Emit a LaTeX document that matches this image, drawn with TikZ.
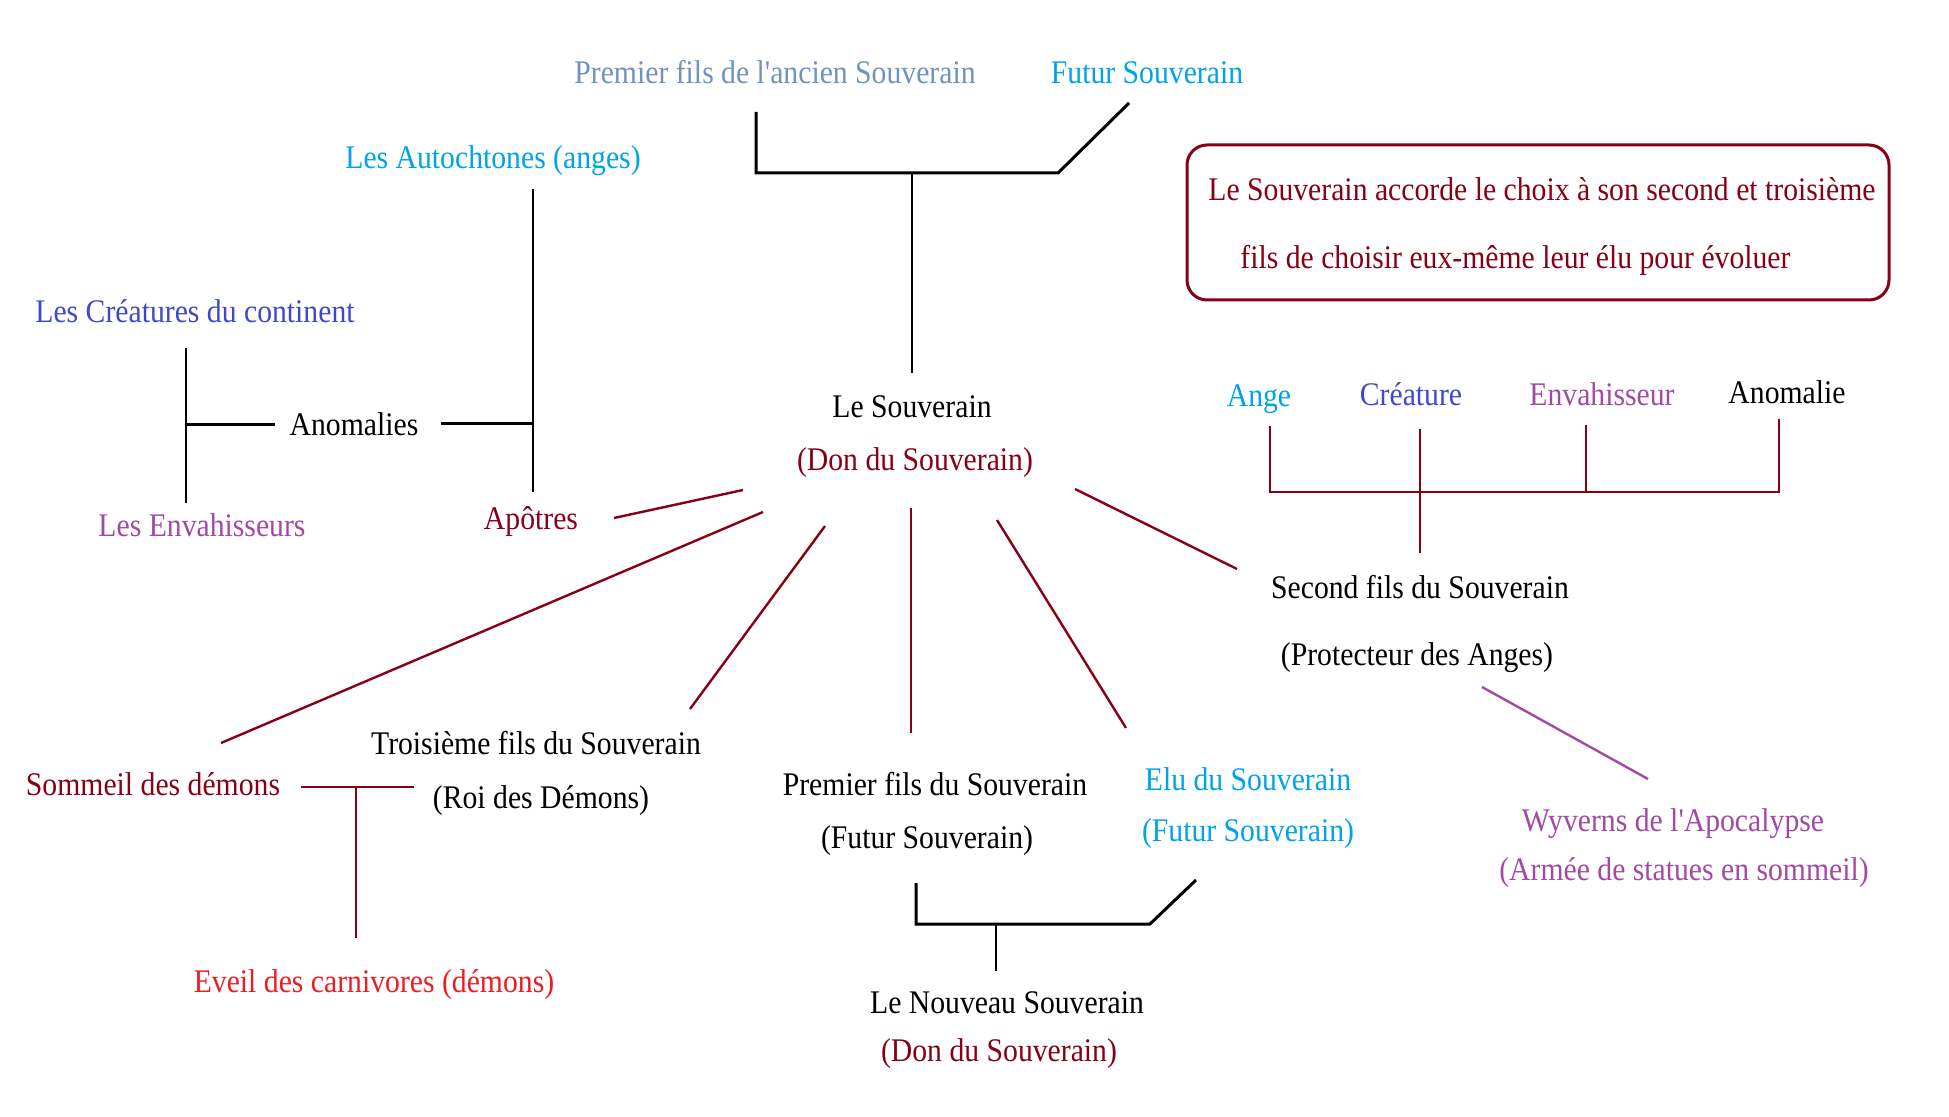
\documentclass[tikz,border=0pt]{standalone}
\usepackage{fontspec}
\setmainfont[FakeStretch=0.9, Ligatures=TeXOff]{Liberation Serif}
\definecolor{dred}{HTML}{880015}
\definecolor{sky}{HTML}{00A2E8}
\definecolor{slate}{HTML}{7092BE}
\definecolor{royal}{HTML}{3F48CC}
\definecolor{purp}{HTML}{A349A4}
\definecolor{bred}{HTML}{ED1C24}
\tikzset{
  lbl/.style={inner sep=0pt, font=\fontsize{16.5}{19}\selectfont, text height=1.5ex, text depth=.25ex, yshift=-3pt},
  blk/.style={draw=black, line width=1.5pt},
  blkthin/.style={draw=black, line width=1pt},
  spoke/.style={draw=dred, line width=1.2pt},
  rbr/.style={draw=dred, line width=1.4pt},
}
\begin{document}
\begin{tikzpicture}[x=0.5pt,y=-0.5pt]
\useasboundingbox (0,0) rectangle (1949,1117);
% texts
\node[lbl, slate] (ancien) at (775,72) {Premier fils de l'ancien Souverain};
\node[lbl, sky] (futur) at (1147,72) {Futur Souverain};
\node[lbl, sky] (autoch) at (493,157) {Les Autochtones (anges)};
\node[lbl, royal] (creat) at (195,311) {Les Créatures du continent};
\node[lbl] (anomalies) at (354,424) {Anomalies};
\node[lbl, purp] (envah) at (202,525) {Les Envahisseurs};
\node[lbl, dred] (apotres) at (531,518) {Apôtres};
\node[lbl] (souv) at (912,406) {Le Souverain};
\node[lbl, dred] (don) at (915,459) {(Don du Souverain)};
\node[draw=dred, line width=1.5pt, rounded corners=10pt, minimum width=351pt, minimum height=77.5pt, inner sep=0pt] (box) at (1538,222.5) {};
\node[lbl, dred, anchor=west] (boxa) at (1208,189) {Le Souverain accorde le choix à son second et troisième};
\node[lbl, dred, anchor=west] (boxb) at (1240,257) {fils de choisir eux-même leur élu pour évoluer};
\node[lbl, sky] (ange) at (1259,395) {Ange};
\node[lbl, royal] (creature) at (1411,394) {Créature};
\node[lbl, purp] (envahisseur) at (1602,394) {Envahisseur};
\node[lbl] (anomalie) at (1787,392) {Anomalie};
\node[lbl] (second) at (1420,587) {Second fils du Souverain};
\node[lbl] (protecteur) at (1417,654) {(Protecteur des Anges)};
\node[lbl, purp] (wyv) at (1673,820) {Wyverns de l'Apocalypse};
\node[lbl, purp] (armee) at (1684,869) {(Armée de statues en sommeil)};
\node[lbl] (troisieme) at (536,743) {Troisième fils du Souverain};
\node[lbl] (roi) at (541,797) {(Roi des Démons)};
\node[lbl, dred] (sommeil) at (153,784) {Sommeil des démons};
\node[lbl, bred] (eveil) at (374,981) {Eveil des carnivores (démons)};
\node[lbl] (premier) at (935,784) {Premier fils du Souverain};
\node[lbl] (futurb) at (927,837) {(Futur Souverain)};
\node[lbl, sky] (elu) at (1248,779) {Elu du Souverain};
\node[lbl, sky] (elufutur) at (1248,830) {(Futur Souverain)};
\node[lbl] (nouveau) at (1007,1002) {Le Nouveau Souverain};
\node[lbl, dred] (donb) at (999,1050) {(Don du Souverain)};
% coordinates
\coordinate (t1) at (756,112);
\coordinate (t2) at (756,173);
\coordinate (t3) at (1058,173);
\coordinate (t4) at (1129,103);
\coordinate (ts) at (912,173);
\coordinate (ts2) at (912,373);
\coordinate (a1) at (533,189);
\coordinate (a2) at (533,492);
\coordinate (a3) at (533,424);
\coordinate (a4) at (441,424);
\coordinate (c1) at (186,348);
\coordinate (c2) at (186,503);
\coordinate (c3) at (186,425);
\coordinate (c4) at (275,425);
\coordinate (s1a) at (743,490); \coordinate (s1b) at (614,518);
\coordinate (s2a) at (763,512); \coordinate (s2b) at (221,743);
\coordinate (s3a) at (825,526); \coordinate (s3b) at (690,709);
\coordinate (s4a) at (911,508); \coordinate (s4b) at (911,733);
\coordinate (s5a) at (997,520); \coordinate (s5b) at (1126,728);
\coordinate (s6a) at (1075,489); \coordinate (s6b) at (1237,569);
\coordinate (g1) at (1270,426); \coordinate (g1b) at (1270,492);
\coordinate (g2) at (1420,429); \coordinate (g2b) at (1420,553);
\coordinate (g3) at (1586,425); \coordinate (g3b) at (1586,492);
\coordinate (g4) at (1779,419); \coordinate (g4b) at (1779,492);
\coordinate (w1) at (1482,687); \coordinate (w2) at (1648,779);
\coordinate (m1) at (301,787); \coordinate (m2) at (414,787);
\coordinate (m3) at (356,787); \coordinate (m4) at (356,938);
\coordinate (b1) at (916,883); \coordinate (b2) at (916,924);
\coordinate (b3) at (1150,924); \coordinate (b4) at (1196,880);
\coordinate (bs) at (996,924); \coordinate (bs2) at (996,971);
% connectors
\draw[blk] (t1) -- (t2) -- (t3) -- (t4);
\draw[blkthin] (ts) -- (ts2);
\draw[blkthin] (a1) -- (a2);
\draw[blk] (a4) -- (a3);
\draw[blkthin] (c1) -- (c2);
\draw[blk] (c3) -- (c4);
\draw[spoke] (s1a) -- (s1b);
\draw[spoke] (s2a) -- (s2b);
\draw[spoke] (s3a) -- (s3b);
\draw[spoke] (s4a) -- (s4b);
\draw[spoke] (s5a) -- (s5b);
\draw[spoke] (s6a) -- (s6b);
\draw[rbr] (g1) -- (g1b) -- (g4b) -- (g4);
\draw[rbr] (g2) -- (g2b);
\draw[rbr] (g3) -- (g3b);
\draw[draw=purp, line width=1.2pt] (w1) -- (w2);
\draw[rbr] (m1) -- (m2);
\draw[rbr] (m3) -- (m4);
\draw[blk] (b1) -- (b2) -- (b3) -- (b4);
\draw[blkthin] (bs) -- (bs2);
\end{tikzpicture}
\end{document}
